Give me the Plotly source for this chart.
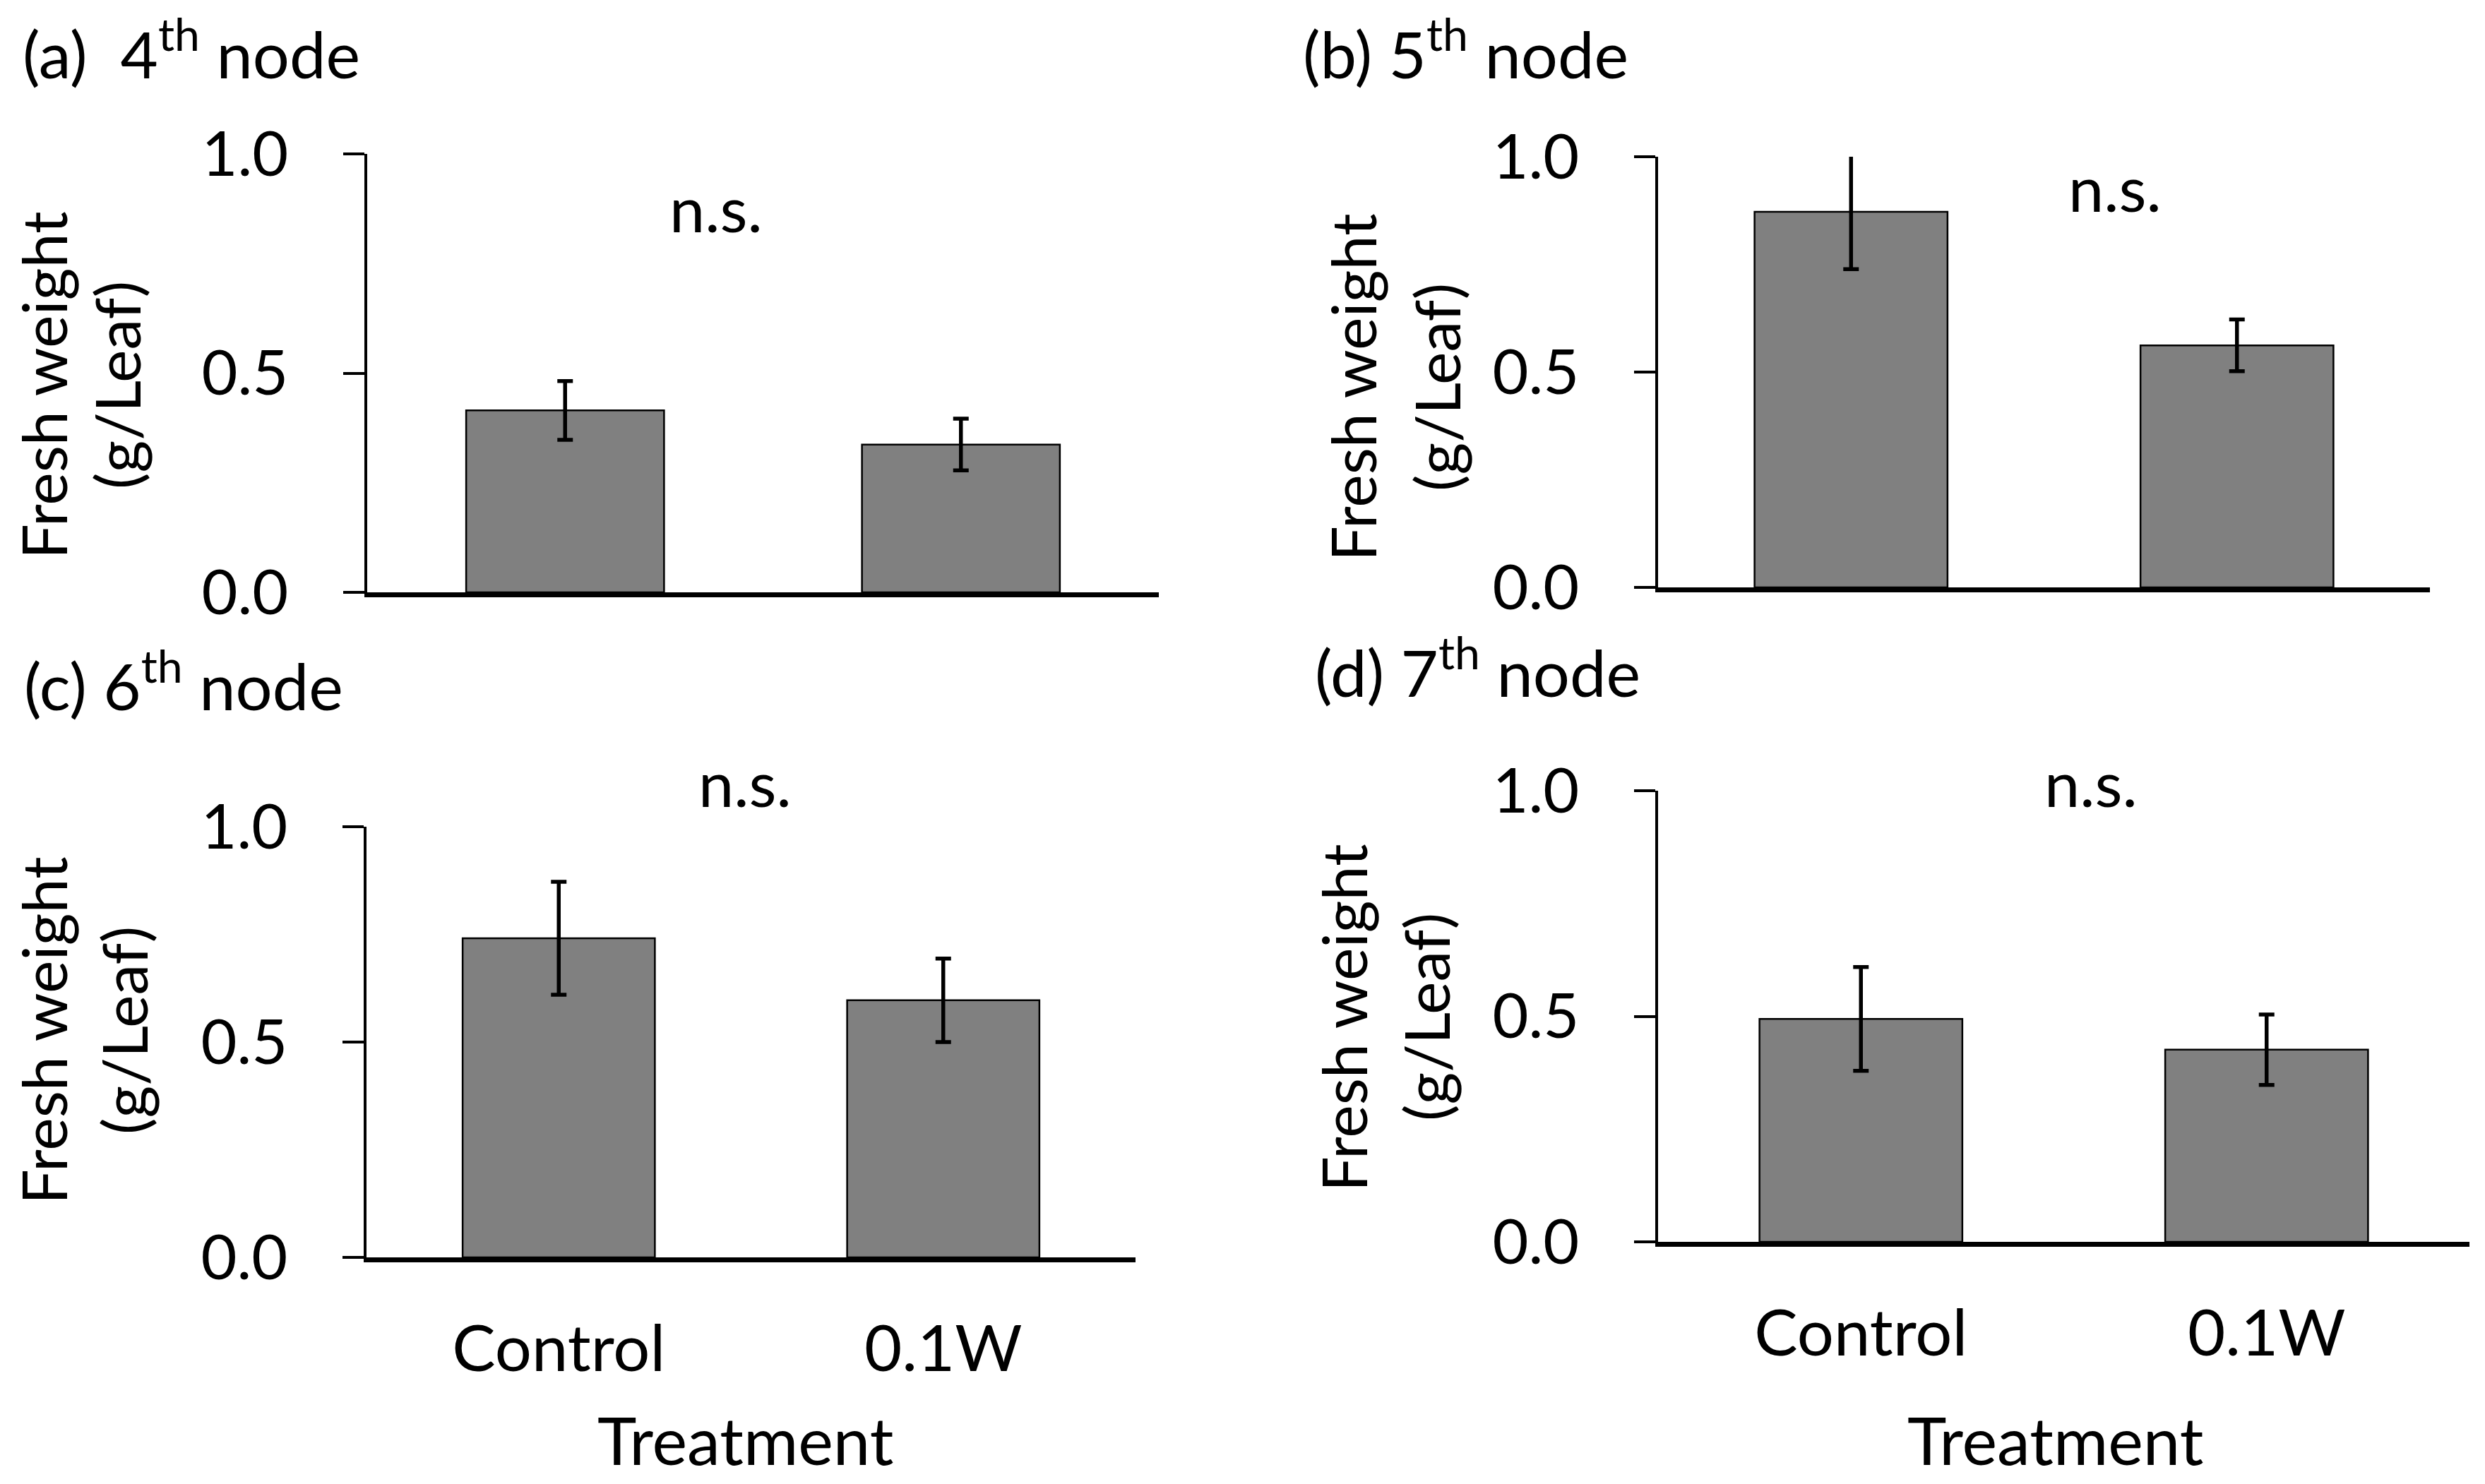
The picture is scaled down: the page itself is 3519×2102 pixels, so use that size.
#!/usr/bin/env python3
"""
Fresh weight per leaf at the 4th-7th nodes, Control vs 0.1W
"""

import plotly.graph_objects as go
from plotly.subplots import make_subplots

# data
categories = ["Control", "0.1W"]
panel_titles = [
    "(a)  4<sup>th</sup> node",
    "(b) 5<sup>th</sup> node",
    "(c) 6<sup>th</sup> node",
    "(d) 7<sup>th</sup> node",
]
means_4th = [0.415, 0.337]
err_4th = [0.067, 0.059]
means_5th = [0.872, 0.562]
err_5th = [0.133, 0.060]
means_6th = [0.741, 0.597]
err_6th = [0.131, 0.097]
means_7th = [0.494, 0.426]
err_7th = [0.115, 0.078]
y_ticks = [0.0, 0.5, 1.0]

W, H = 3519, 2102
FONT = "Lato"
PAGE_OFFSET = 8  # default body margin of the html page


def px_x(v):
    return (v - PAGE_OFFSET) / W


def px_y(v):
    return 1 - (v - PAGE_OFFSET) / H


def build():
    fig = make_subplots(rows=2, cols=2)

    series = [
        (means_4th, err_4th, 1, 1),
        (means_5th, err_5th, 1, 2),
        (means_6th, err_6th, 2, 1),
        (means_7th, err_7th, 2, 2),
    ]
    for means, errs, r, c in series:
        fig.add_trace(go.Bar(
            x=categories,
            y=means,
            width=0.5,
            marker=dict(color="#808080", line=dict(color="black", width=2.5)),
            error_y=dict(type="data", array=errs, visible=True,
                         color="black", thickness=5.5, width=11),
            cliponaxis=False,
        ), row=r, col=c)

    # panel geometry in pixels (left, right, bottom, top)
    boxes = [
        (520, 1641, 839, 218),
        (2348, 3441, 832, 222),
        (519, 1608, 1781, 1171),
        (2348, 3497, 1759, 1120),
    ]
    axis_names = [("xaxis", "yaxis"), ("xaxis2", "yaxis2"),
                  ("xaxis3", "yaxis3"), ("xaxis4", "yaxis4")]
    for i, ((l, r, b, t), (xa, ya)) in enumerate(zip(boxes, axis_names)):
        fig.layout[xa].update(
            domain=[px_x(l), px_x(r)],
            range=[-0.5, 1.5],
            automargin=False,
            showline=True, linecolor="black", linewidth=7,
            ticks="", showgrid=False, zeroline=False,
            showticklabels=i >= 2,
            tickfont=dict(family=FONT, size=92, color="black"),
            ticklabelstandoff=44,
        )
        fig.layout[ya].update(
            domain=[px_y(b), px_y(t)],
            range=[0, 1],
            automargin=False,
            tickvals=y_ticks, tickformat=".1f",
            showline=True, linecolor="black", linewidth=4,
            ticks="outside", ticklen=30, tickwidth=4, tickcolor="black",
            showgrid=False, zeroline=False,
            tickfont=dict(family=FONT, size=88, color="black"),
            ticklabelstandoff=60,
        )

    # panel titles
    title_pos = [(30, 69), (1843, 69), (32, 965), (1860, 945)]
    for txt, (x, y) in zip(panel_titles, title_pos):
        fig.add_annotation(text=txt, xref="paper", yref="paper",
                           x=px_x(x), y=px_y(y), xanchor="left", yanchor="middle",
                           showarrow=False,
                           font=dict(family=FONT, size=92, color="black"))

    # n.s. labels
    ns_pos = [(1014, 294), (2995, 265), (1055, 1108), (2961, 1108)]
    for x, y in ns_pos:
        fig.add_annotation(text="n.s.", xref="paper", yref="paper",
                           x=px_x(x), y=px_y(y), xanchor="center", yanchor="middle",
                           showarrow=False,
                           font=dict(family=FONT, size=90, color="black"))

    # x axis titles (bottom row only)
    for x, y in [(1055, 2038), (2910, 2038)]:
        fig.add_annotation(text="Treatment", xref="paper", yref="paper",
                           x=px_x(x), y=px_y(y), xanchor="center", yanchor="middle",
                           showarrow=False,
                           font=dict(family=FONT, size=94, color="black"))

    # y axis titles, two lines each: (x line 1, x line 2, y centre)
    ytitle_pos = [(61, 165, 546), (1915, 2034, 549), (61, 175, 1460), (1902, 2019, 1441)]
    for x1, x2, yc in ytitle_pos:
        for txt, x in [("Fresh weight", x1), ("(g/Leaf)", x2)]:
            fig.add_annotation(text=txt, xref="paper", yref="paper",
                               x=px_x(x), y=px_y(yc), xanchor="center", yanchor="middle",
                               textangle=-90, showarrow=False,
                               font=dict(family=FONT, size=88, color="black"))

    fig.update_layout(
        width=W, height=H, autosize=False,
        margin=dict(l=0, r=0, t=0, b=0),
        paper_bgcolor="white", plot_bgcolor="white",
        showlegend=False,
        font=dict(family=FONT, color="black"),
    )
    return fig


def main():
    fig = build()
    fig.write_html("out.html")


if __name__ == "__main__":
    main()
